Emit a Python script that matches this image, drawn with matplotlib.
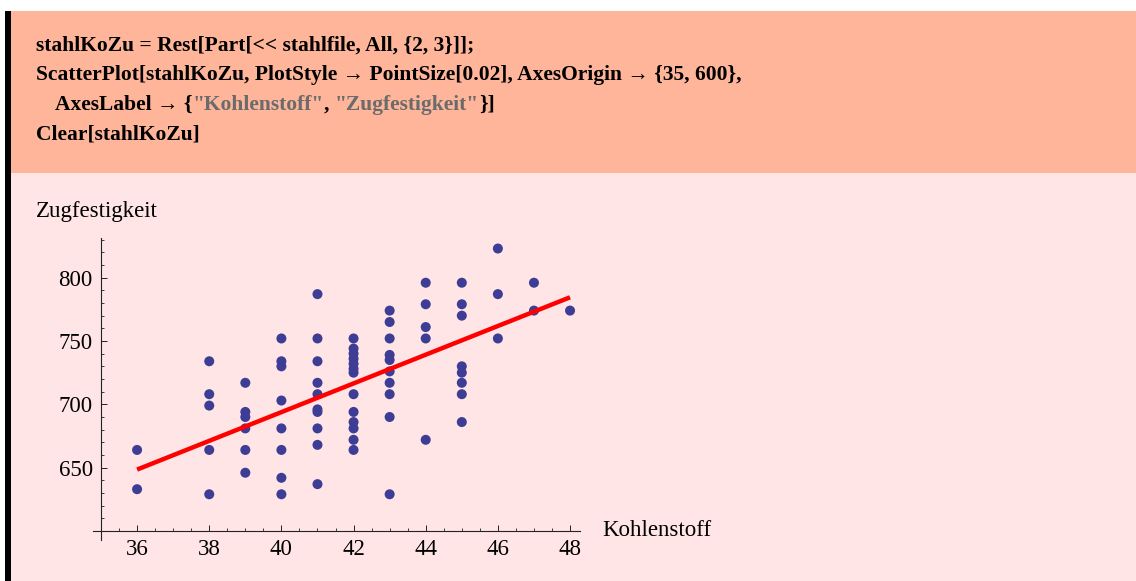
import matplotlib
matplotlib.use("Agg")
import matplotlib.pyplot as plt
from matplotlib.patches import Rectangle
from matplotlib.ticker import FixedLocator, MultipleLocator


# Kohlenstoff (x) -> Zugfestigkeit (y)
carbon = (
    [36] * 2 + [38] * 5 + [39] * 6 + [40] * 8 + [41] * 10 + [42] * 13
    + [43] * 10 + [44] * 5 + [45] * 8 + [46] * 3 + [47] * 2 + [48] * 1
)
strength = [
    664, 633,
    734, 708, 699, 664, 629,
    717, 694, 690, 681, 664, 646,
    752, 734, 730, 703, 681, 664, 642, 629,
    787, 752, 734, 717, 708, 696, 694, 681, 668, 637,
    752, 744, 740, 736, 732, 728, 725, 708, 694, 686, 681, 672, 664,
    774, 765, 752, 739, 735, 726, 717, 708, 690, 629,
    796, 779, 761, 752, 672,
    796, 779, 770, 730, 725, 717, 708, 686,
    823, 787, 752,
    796, 774,
    774,
]
fit_x = [36, 48]
fit_y = [648.5, 784.5]

code_lines = [
    "stahlKoZu = Rest[Part[<< stahlfile, All, {2, 3}]];",
    "ScatterPlot[stahlKoZu, PlotStyle \u2192 PointSize[0.02], AxesOrigin \u2192 {35, 600},",
    None,
    "Clear[stahlKoZu]",
]
line3_parts = [
    ("AxesLabel \u2192 {", "black"),
    ('"Kohlenstoff"', "#6b6b6b"),
    (", ", "black"),
    ('"Zugfestigkeit"', "#6b6b6b"),
    ("}]", "black"),
]

SERIF = ["Liberation Serif", "DejaVu Serif"]
SALMON = "#ffb59a"
PINK = "#ffe5e5"
DOT = "#3d3d96"

W, H = 1136, 581
fig = plt.figure(figsize=(W / 100, H / 100), dpi=100, facecolor="white")

# notebook cell background, pixel coordinates
bg = fig.add_axes([0, 0, 1, 1])
bg.set_xlim(0, W)
bg.set_ylim(H, 0)
bg.axis("off")
bg.add_patch(Rectangle((11, 11), W - 11, 162, color=SALMON, lw=0))
bg.add_patch(Rectangle((11, 173), W - 11, H - 173, color=PINK, lw=0))
bg.add_patch(Rectangle((5, 11), 6, H - 11, color="black", lw=0))

code_font = dict(family=SERIF, fontweight="bold", fontsize=15.5)
baselines = [51, 80, 110, 139]
for text, yb in zip(code_lines, baselines):
    if text is not None:
        bg.text(36, yb, text, va="baseline", ha="left", **code_font)

prev = bg.text(55, baselines[2], line3_parts[0][0], va="baseline", ha="left",
               color=line3_parts[0][1], **code_font)
for text, color in line3_parts[1:]:
    prev = bg.annotate(text, xy=(1, 0), xycoords=prev, va="bottom", ha="left",
                       color=color, **code_font)

bg.text(36, 212, "Zugfestigkeit", va="center", ha="left", family=SERIF, fontsize=16.5)
bg.text(602, 531, "Kohlenstoff", va="center", ha="left", family=SERIF, fontsize=16.5)

# scatter plot
x0, x1 = 34.7, 48.4
y0, y1 = 590, 832
px = lambda v: 101 + (v - 35) * 36.08
py = lambda v: 531 - (v - 600) * 1.2667
left, right = px(x0), px(x1)
bottom, top = py(y0), py(y1)
ax = fig.add_axes([left / W, 1 - bottom / H, (right - left) / W, (bottom - top) / H])
ax.set_facecolor("none")
ax.set_xlim(x0, x1)
ax.set_ylim(y0, y1)

ax.plot(fit_x, fit_y, color="red", lw=3.2, solid_capstyle="butt", zorder=3)
ax.scatter(carbon, strength, s=52, color=DOT, edgecolors="none", zorder=2)

for side in ["top", "right"]:
    ax.spines[side].set_visible(False)
ax.spines["left"].set_position(("data", 35))
ax.spines["bottom"].set_position(("data", 600))
ax.spines["left"].set_bounds(593, 831)
ax.spines["bottom"].set_bounds(34.77, 48.27)
for side in ["left", "bottom"]:
    ax.spines[side].set_linewidth(0.8)
    ax.spines[side].set_color("#222222")

ax.set_xticks(range(36, 49, 2))
ax.set_yticks([650, 700, 750, 800])
ax.xaxis.set_minor_locator(MultipleLocator(0.5))
ax.yaxis.set_minor_locator(FixedLocator(range(610, 831, 10)))
ax.tick_params(which="major", direction="in", length=4.5, width=0.7, colors="#222222",
               labelcolor="black", labelsize=16.5, pad=6)
ax.tick_params(which="minor", direction="in", length=2.5, width=0.6, colors="#222222")
for lbl in ax.get_xticklabels() + ax.get_yticklabels():
    lbl.set_family(SERIF)

fig.savefig("out.png", dpi=100, facecolor="white")
